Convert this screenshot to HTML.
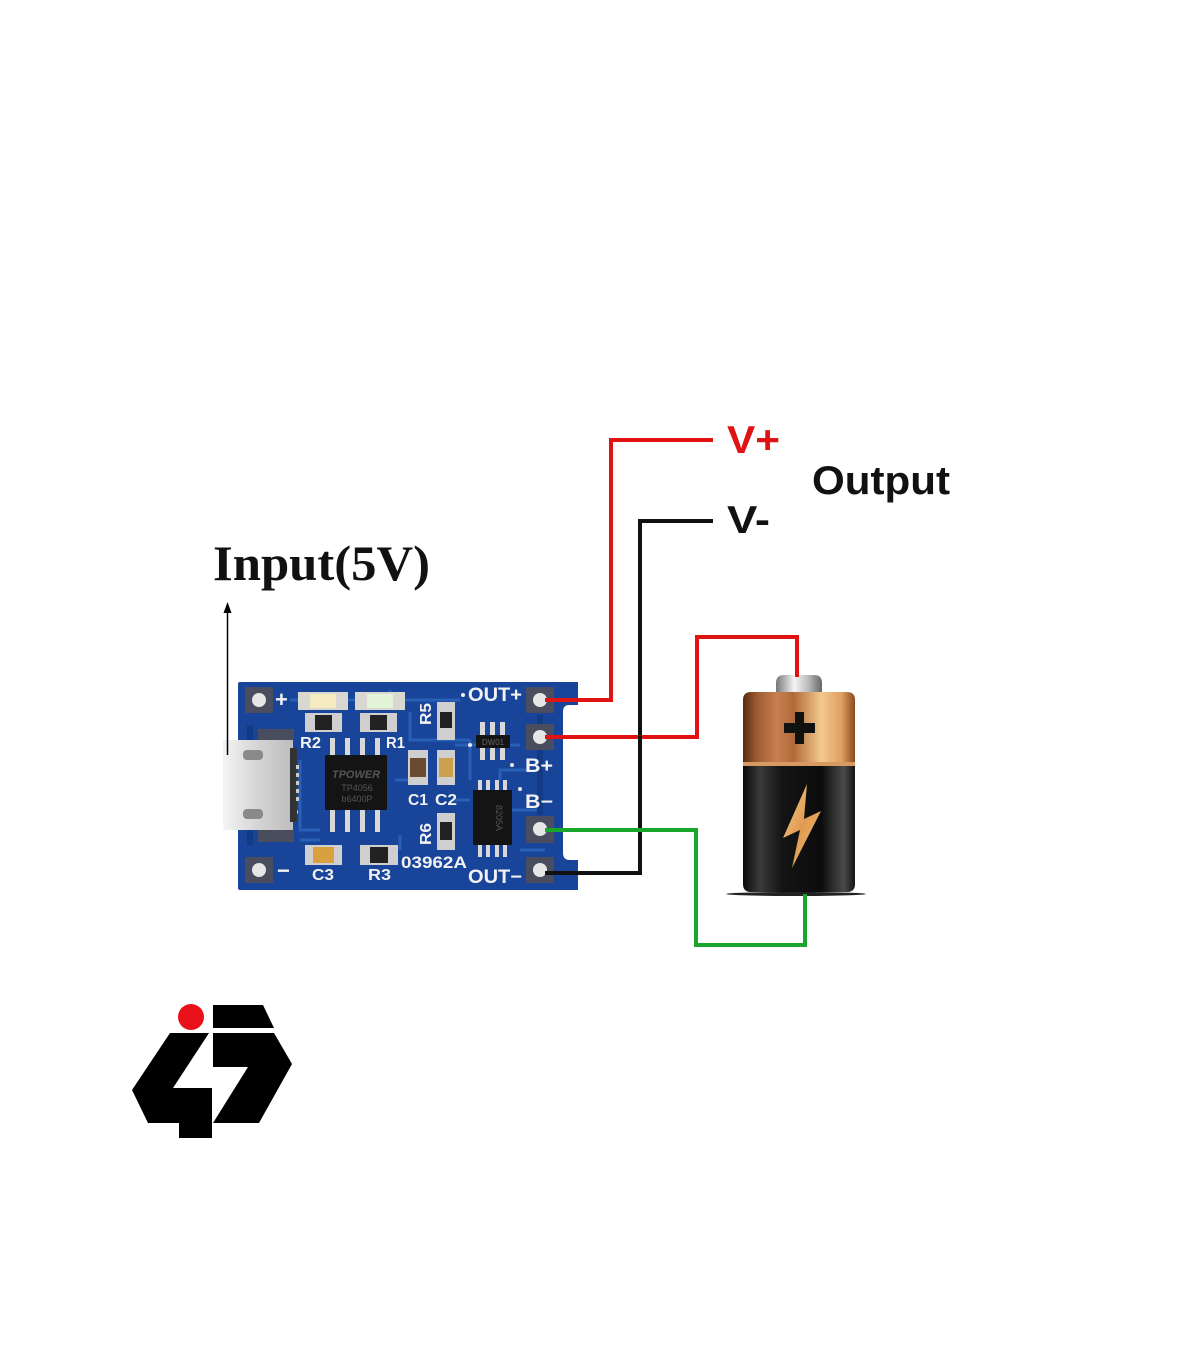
<!DOCTYPE html>
<html><head><meta charset="utf-8"><style>
html,body{margin:0;padding:0;background:#fff;}
svg{display:block;}
</style></head><body>
<svg width="1200" height="1372" viewBox="0 0 1200 1372" xmlns="http://www.w3.org/2000/svg">
<defs>
<linearGradient id="copper" x1="0" x2="1" y1="0" y2="0">
<stop offset="0" stop-color="#5a2c12"/><stop offset="0.12" stop-color="#9a5a30"/><stop offset="0.3" stop-color="#c98050"/><stop offset="0.45" stop-color="#b06a3a"/><stop offset="0.7" stop-color="#f3c98e"/><stop offset="0.88" stop-color="#e0a060"/><stop offset="1" stop-color="#8a4a20"/>
</linearGradient>
<linearGradient id="blk" x1="0" x2="1" y1="0" y2="0">
<stop offset="0" stop-color="#0a0a0a"/><stop offset="0.15" stop-color="#3a3a3a"/><stop offset="0.35" stop-color="#141414"/><stop offset="0.7" stop-color="#0c0c0c"/><stop offset="0.9" stop-color="#4a4a4a"/><stop offset="1" stop-color="#151515"/>
</linearGradient>
<linearGradient id="silver" x1="0" x2="1" y1="0" y2="0">
<stop offset="0" stop-color="#777"/><stop offset="0.4" stop-color="#f4f4f4"/><stop offset="0.7" stop-color="#bbb"/><stop offset="1" stop-color="#666"/>
</linearGradient>
<linearGradient id="bolt" x1="0" x2="1" y1="0" y2="1">
<stop offset="0" stop-color="#f8d090"/><stop offset="0.5" stop-color="#e09a50"/><stop offset="1" stop-color="#f3c07a"/>
</linearGradient>
<linearGradient id="usb" x1="0" x2="1" y1="0" y2="0">
<stop offset="0" stop-color="#f4f4f4"/><stop offset="0.5" stop-color="#d4d4d4"/><stop offset="1" stop-color="#bdbdbd"/>
</linearGradient>
</defs>

<!-- PCB board -->
<path d="M240,682 H578 V705 H569 Q563,705 563,712 V853 Q563,860 570,860 H578 V890 H240 Q238,890 238,888 V684 Q238,682 240,682 Z" fill="#18449a"/>
<!-- traces -->
<g stroke="#2a62bb" stroke-width="3" fill="none" opacity="0.9">
<path d="M290,700 H460 M410,712 V740 H470 M455,745 H520 M470,740 V780 M300,760 V830 H320 M395,780 H420 M400,835 V850 M455,800 H470 M500,780 V770 H530 M510,810 H540 M520,850 H545 M300,840 H320 M390,705 V690"/>
<path d="M250,725 V845 M540,715 V725 M540,750 V815" stroke="#133a82" stroke-width="6"/>
</g>
<!-- pads -->
<g fill="#4a4d5e">
<rect x="245" y="687" width="28" height="26"/>
<rect x="245" y="857" width="28" height="26"/>
<rect x="526" y="687" width="28" height="26"/>
<rect x="526" y="724" width="28" height="26"/>
<rect x="526" y="816" width="28" height="27"/>
<rect x="526" y="857" width="28" height="26"/>
</g>
<g fill="#e6e6e6">
<circle cx="259" cy="700" r="7"/><circle cx="259" cy="870" r="7"/>
<circle cx="540" cy="700" r="7"/><circle cx="540" cy="737" r="7"/>
<circle cx="540" cy="829" r="7"/><circle cx="540" cy="870" r="7"/>
</g>
<!-- LEDs -->
<rect x="298" y="692" width="50" height="18" fill="#d8d8d0"/>
<rect x="310" y="694" width="26" height="14" fill="#f4ecc0"/>
<rect x="355" y="692" width="50" height="18" fill="#d8d8d0"/>
<rect x="367" y="694" width="26" height="14" fill="#e4f4d8"/>
<!-- resistors top -->
<rect x="305" y="713" width="37" height="19" fill="#cfcfcf"/>
<rect x="315" y="715" width="17" height="15" fill="#222"/>
<rect x="360" y="713" width="37" height="19" fill="#cfcfcf"/>
<rect x="370" y="715" width="17" height="15" fill="#222"/>
<!-- C3 R3 -->
<rect x="305" y="845" width="37" height="20" fill="#cfcfcf"/>
<rect x="313" y="847" width="21" height="16" fill="#d9a040"/>
<rect x="360" y="845" width="38" height="20" fill="#cfcfcf"/>
<rect x="370" y="847" width="18" height="16" fill="#222"/>
<!-- C1 C2 R5 R6 -->
<rect x="408" y="750" width="20" height="35" fill="#cfcfcf"/>
<rect x="410" y="758" width="16" height="19" fill="#6a4a30"/>
<rect x="437" y="750" width="18" height="35" fill="#cfcfcf"/>
<rect x="439" y="758" width="14" height="19" fill="#caa050"/>
<rect x="437" y="702" width="18" height="38" fill="#cfcfcf"/>
<rect x="440" y="712" width="12" height="16" fill="#222"/>
<rect x="437" y="813" width="18" height="37" fill="#cfcfcf"/>
<rect x="440" y="822" width="12" height="18" fill="#222"/>
<!-- TP4056 chip -->
<g fill="#d8d8d8">
<rect x="330" y="738" width="5" height="17"/><rect x="345" y="738" width="5" height="17"/><rect x="360" y="738" width="5" height="17"/><rect x="375" y="738" width="5" height="17"/>
<rect x="330" y="810" width="5" height="22"/><rect x="345" y="810" width="5" height="22"/><rect x="360" y="810" width="5" height="22"/><rect x="375" y="810" width="5" height="22"/>
</g>
<rect x="325" y="755" width="62" height="55" fill="#141414"/>
<text x="356" y="778" font-family="Liberation Sans, sans-serif" font-size="11" font-style="italic" font-weight="bold" fill="#555" text-anchor="middle">TPOWER</text>
<text x="357" y="791" font-family="Liberation Sans, sans-serif" font-size="9" fill="#555" text-anchor="middle">TP4056</text>
<text x="357" y="802" font-family="Liberation Sans, sans-serif" font-size="9" fill="#555" text-anchor="middle">b6400P</text>
<!-- DW01 -->
<g fill="#d8d8d8">
<rect x="480" y="722" width="5" height="13"/><rect x="490" y="722" width="5" height="13"/><rect x="500" y="722" width="5" height="13"/>
<rect x="480" y="748" width="5" height="12"/><rect x="490" y="748" width="5" height="12"/><rect x="500" y="748" width="5" height="12"/>
<rect x="478" y="780" width="4" height="10"/><rect x="486" y="780" width="4" height="10"/><rect x="495" y="780" width="4" height="10"/><rect x="503" y="780" width="4" height="10"/>
<rect x="478" y="845" width="4" height="12"/><rect x="486" y="845" width="4" height="12"/><rect x="495" y="845" width="4" height="12"/><rect x="503" y="845" width="4" height="12"/>
</g>
<rect x="476" y="735" width="34" height="13" fill="#141414"/>
<text x="493" y="745" font-family="Liberation Sans, sans-serif" font-size="8" fill="#666" text-anchor="middle">DW01</text>
<rect x="473" y="790" width="39" height="55" fill="#141414"/>
<text transform="translate(496,818) rotate(90)" font-family="Liberation Sans, sans-serif" font-size="9" fill="#555" text-anchor="middle">8205A</text>
<!-- vias -->
<g fill="#e8e8e8"><circle cx="470" cy="745" r="2"/><circle cx="512" cy="765" r="2"/><circle cx="296" cy="812" r="2"/><circle cx="520" cy="789" r="2"/></g>
<!-- micro USB -->
<rect x="223" y="740" width="70" height="90" fill="url(#usb)"/>
<rect x="290" y="748" width="7" height="74" fill="#333"/>
<g fill="#ccc"><rect x="296" y="765" width="3" height="4"/><rect x="296" y="773" width="3" height="4"/><rect x="296" y="781" width="3" height="4"/><rect x="296" y="789" width="3" height="4"/><rect x="296" y="797" width="3" height="4"/></g>
<rect x="243" y="750" width="20" height="10" rx="4" fill="#8a8a8a"/>
<rect x="243" y="809" width="20" height="10" rx="4" fill="#8a8a8a"/>
<rect x="258" y="729" width="36" height="11" fill="#4a4d5e"/>
<rect x="258" y="830" width="36" height="12" fill="#4a4d5e"/>

<!-- PCB labels -->
<g font-family="Liberation Sans Narrow, Liberation Sans, sans-serif" font-weight="bold" fill="#f2f2f2">
<text x="275" y="707" font-size="22">+</text>
<text x="277" y="878" font-size="22">−</text>
<text x="300" y="748" font-size="16" textLength="21" lengthAdjust="spacingAndGlyphs">R2</text>
<text x="386" y="748" font-size="16" textLength="19" lengthAdjust="spacingAndGlyphs">R1</text>
<text x="312" y="880" font-size="16" textLength="22" lengthAdjust="spacingAndGlyphs">C3</text>
<text x="368" y="880" font-size="16" textLength="23" lengthAdjust="spacingAndGlyphs">R3</text>
<text x="408" y="805" font-size="16" textLength="20" lengthAdjust="spacingAndGlyphs">C1</text>
<text x="435" y="805" font-size="16" textLength="22" lengthAdjust="spacingAndGlyphs">C2</text>
<text transform="translate(431,725) rotate(-90)" font-size="16" textLength="22" lengthAdjust="spacingAndGlyphs">R5</text>
<text transform="translate(431,845) rotate(-90)" font-size="16" textLength="22" lengthAdjust="spacingAndGlyphs">R6</text>
<text x="401" y="868" font-size="17" textLength="66" lengthAdjust="spacingAndGlyphs">03962A</text>
<text x="468" y="701" font-size="19" textLength="54" lengthAdjust="spacingAndGlyphs">OUT+</text>
<text x="468" y="883" font-size="19" textLength="54" lengthAdjust="spacingAndGlyphs">OUT−</text>
<text x="525" y="772" font-size="19" textLength="28" lengthAdjust="spacingAndGlyphs">B+</text>
<text x="525" y="808" font-size="19" textLength="28" lengthAdjust="spacingAndGlyphs">B−</text>
</g>
<circle cx="463" cy="695" r="2" fill="#f2f2f2"/>

<!-- Battery -->
<ellipse cx="796" cy="894" rx="70" ry="2" fill="#222"/>
<path d="M776,692 V683 Q776,675 784,675 H814 Q822,675 822,683 V692 Z" fill="url(#silver)"/>
<path d="M743,765 V700 Q743,692 751,692 H847 Q855,692 855,700 V765 Z" fill="url(#copper)"/>
<rect x="743" y="762" width="112" height="4" fill="#d89a60"/>
<path d="M743,766 H855 V884 Q855,892 847,892 H751 Q743,892 743,884 Z" fill="url(#blk)"/>
<path d="M795,712 h9 v11 h11 v10 h-11 v11 h-9 v-11 h-11 v-10 h11 z" fill="#111"/>
<path d="M807,784 L783,838 L800,830 L792,868 L821,811 L804,819 Z" fill="url(#bolt)"/>

<!-- Wires -->
<g fill="none" stroke-width="4" stroke-linejoin="miter" stroke-linecap="butt">
<path d="M545,700 H611 V440 H713" stroke="#e01212"/>
<path d="M545,737 H697 V637 H797 V677" stroke="#e01212"/>
<path d="M545,873 H640 V521 H713" stroke="#111"/>
<path d="M545,830 H696 V945 H805 V894" stroke="#1aa62a"/>
</g>

<!-- Input arrow -->
<line x1="227.5" y1="755" x2="227.5" y2="610" stroke="#000" stroke-width="1.5"/>
<polygon points="227.5,602 223.5,613 231.5,613" fill="#000"/>

<!-- Labels -->
<text x="213" y="580" font-family="Liberation Serif, serif" font-weight="bold" font-size="50" fill="#111" textLength="217" lengthAdjust="spacingAndGlyphs">Input(5V)</text>
<text x="727" y="453" font-family="Liberation Sans, sans-serif" font-weight="bold" font-size="39" fill="#e01212" textLength="53" lengthAdjust="spacingAndGlyphs">V+</text>
<text x="727" y="533" font-family="Liberation Sans, sans-serif" font-weight="bold" font-size="39" fill="#111" textLength="43" lengthAdjust="spacingAndGlyphs">V-</text>
<text x="812" y="494" font-family="Liberation Sans, sans-serif" font-weight="bold" font-size="40" fill="#111" textLength="138" lengthAdjust="spacingAndGlyphs">Output</text>

<!-- Logo -->
<circle cx="191" cy="1017" r="13" fill="#e8111a"/>
<polygon points="213,1005 263,1005 274,1028 213,1028" fill="#000"/>
<polygon points="170,1033 209,1033 173,1088 212,1088 212,1138 179,1138 179,1123 148,1123 132,1090" fill="#000"/>
<polygon points="213,1033 274,1033 292,1064 259,1123 213,1123 248,1067 213,1067" fill="#000"/>
</svg>
</body></html>
